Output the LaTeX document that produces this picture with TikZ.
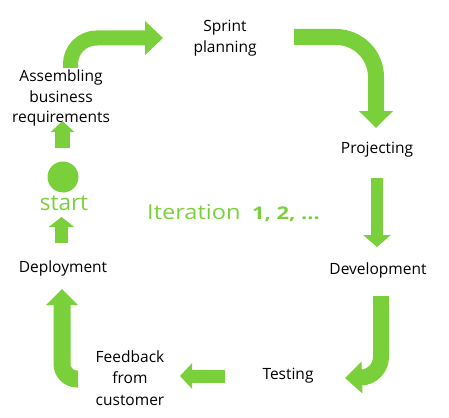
\documentclass[tikz,border=0pt]{standalone}
\usepackage{fontspec}
\setmainfont{Open Sans}
\newfontfamily\widefont{Open Sans}[FakeStretch=1.15]
\newfontfamily\widerfont{Open Sans}[FakeStretch=1.25]
\usetikzlibrary{arrows.meta}
\definecolor{lgreen}{RGB}{122,208,58}
\tikzset{
  lbl/.style={font=\fontsize{15.5}{20.5}\selectfont, align=center, inner sep=0pt, text=black},
  flow/.style={draw=lgreen, line cap=butt, line join=round},
}
\begin{document}
\begin{tikzpicture}[x=1pt,y=-1pt]
\useasboundingbox (0,0) rectangle (449,417);
% labels
\node[lbl] (assem) at (61,98) {Assembling\\business\\requirements};
\node[lbl] (sprint) at (225,38) {Sprint\\planning};
\node[lbl] (proj) at (377,150) {Projecting};
\node[lbl] (dev) at (378,270) {Development};
\node[lbl] (test) at (288,376) {Testing};
\node[lbl, font=\fontsize{15.5}{21.5}\selectfont] (feed) at (130,378) {Feedback\\from\\customer};
\node[lbl] (deploy) at (63,268) {Deployment};
\node[lbl, text=lgreen, font=\fontsize{22.5}{24}\selectfont, anchor=base] (start) at (64,210) {start};
\node[lbl, text=lgreen, font=\widefont\fontsize{20.5}{24}\selectfont, anchor=base west] (iter) at (147,219) {Iteration};
\node[lbl, text=lgreen, font=\widerfont\bfseries\fontsize{17.5}{24}\selectfont, anchor=base west] (nums) at (252,219) {1, 2, ...};
\fill[lgreen] (63,177) circle (15.5) coordinate (dot);
% coordinates
\coordinate (a1s) at (70.5,68);
\coordinate (a1e) at (163,38);
\coordinate (a2s) at (294,37);
\coordinate (a2e) at (376,128);
\coordinate (a3s) at (377,178);
\coordinate (a3e) at (377,247);
\coordinate (a4s) at (381,296);
\coordinate (a4e) at (345,378);
\coordinate (a5s) at (225,376);
\coordinate (a5e) at (180,376);
\coordinate (a6s) at (78,379);
\coordinate (a6e) at (62,289);
\coordinate (a7s) at (61.5,243);
\coordinate (a7e) at (61.5,217);
\coordinate (a8s) at (62.5,148);
\coordinate (a8e) at (62.5,121);
% arrows
\draw[flow, line width=15, rounded corners=26, -{Triangle[width=33,length=18]}]
  (a1s) -- (a1s |- a1e) -- (a1e);
\draw[flow, line width=16, rounded corners=40, -{Triangle[width=33,length=17]}]
  (a2s) -- (a2s -| a2e) -- (a2e);
\draw[flow, line width=12.5, -{Triangle[width=27,length=12]}] (a3s) -- (a3e);
\draw[flow, line width=16, rounded corners=20, -{Triangle[width=31,length=17]}]
  (a4s) -- (381,377) -- (a4e);
\draw[flow, line width=13, -{Triangle[width=25,length=12]}] (a5s) -- (a5e);
\draw[flow, line width=17, rounded corners=15, -{Triangle[width=31,length=16]}]
  (a6s) -- (a6s -| a6e) -- (a6e);
\draw[flow, line width=13, -{Triangle[width=25,length=10]}] (a7s) -- (a7e);
\draw[flow, line width=15, -{Triangle[width=23,length=11]}] (a8s) -- (a8e);
\end{tikzpicture}
\end{document}
